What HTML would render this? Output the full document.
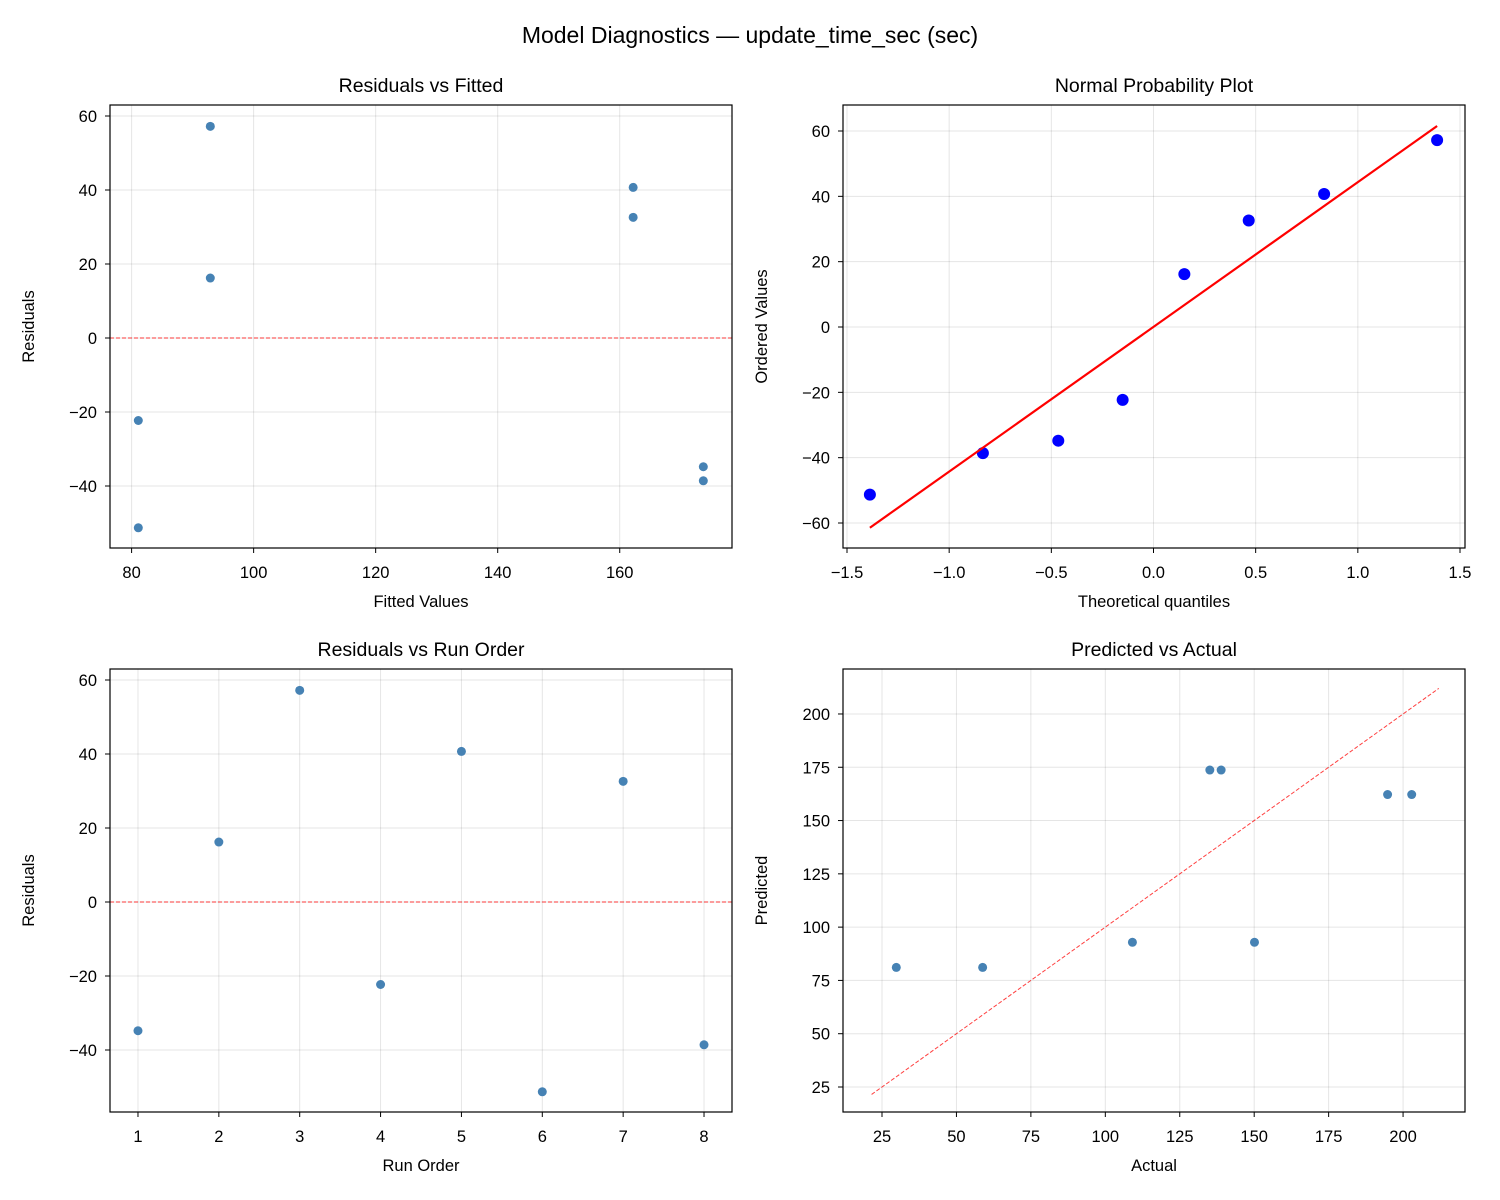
<!DOCTYPE html>
<html><head><meta charset="utf-8"><style>
html,body{margin:0;padding:0;background:#fff;}
svg{display:block;font-family:"Liberation Sans","DejaVu Sans",sans-serif;}
</style></head><body>
<svg id="fig" width="1500" height="1200" viewBox="0 0 1500 1200" xmlns="http://www.w3.org/2000/svg">
<rect width="1500" height="1200" fill="#fff"/>
<text x="750" y="43" text-anchor="middle" font-size="23" fill="#000">Model Diagnostics — update_time_sec (sec)</text>
</svg>
<script>
const runOrder=[1,2,3,4,5,6,7,8];
const residuals=[-34.8,16.2,57.2,-22.3,40.7,-51.3,32.6,-38.6];
const fitted=[173.7,92.9,92.9,81.1,162.2,81.1,162.2,173.7];
const actual=[138.9,109.1,150.1,58.8,202.9,29.8,194.8,135.1];
const quantiles=[-1.388,-0.835,-0.466,-0.151,0.151,0.466,0.835,1.388];
const orderedVals=[-51.3,-38.6,-34.8,-22.3,16.2,32.6,40.7,57.2];
const qqSlope=44.3, qqIntercept=0.04;
const ticksResid=[-40,-20,0,20,40,60];
const ticksFitted=[80,100,120,140,160];
const ticksQ=[-1.5,-1.0,-0.5,0.0,0.5,1.0,1.5];
const ticksQQy=[-60,-40,-20,0,20,40,60];
const ticksRun=[1,2,3,4,5,6,7,8];
const ticksActual=[25,50,75,100,125,150,175,200];
const ticksPred=[25,50,75,100,125,150,175,200];
const diagRange=[21.5,212];

const NS="http://www.w3.org/2000/svg";
const svg=document.getElementById('fig');
function el(tag,attrs,parent){const e=document.createElementNS(NS,tag);for(const k in attrs)e.setAttribute(k,attrs[k]);(parent||svg).appendChild(e);return e;}
function fmt(v,dec){return (v<0?'\u2212':'')+Math.abs(v).toFixed(dec);}

function axes(o){
  const g=el('g',{});
  
  
  const sx=v=>o.x0+(v-o.xl[0])/(o.xl[1]-o.xl[0])*(o.x1-o.x0);
  const sy=v=>o.y1-(v-o.yl[0])/(o.yl[1]-o.yl[0])*(o.y1-o.y0);
  o.xt.forEach(t=>{const x=sx(t);
    const gl=el('line',{x1:x,x2:x,y1:o.y0,y2:o.y1,stroke:'#000','stroke-opacity':0.1,'stroke-width':1},g);
    
    el('line',{x1:x,x2:x,y1:o.y1,y2:o.y1+5,stroke:'#000','stroke-width':1},g);
    const tx=el('text',{x:x,y:o.y1+30,'text-anchor':'middle','font-size':16.5},g);tx.textContent=fmt(t,o.xd);
    });
  o.yt.forEach(t=>{const y=sy(t);
    const gl=el('line',{x1:o.x0,x2:o.x1,y1:y,y2:y,stroke:'#000','stroke-opacity':0.1,'stroke-width':1},g);
    
    el('line',{x1:o.x0-5,x2:o.x0,y1:y,y2:y,stroke:'#000','stroke-width':1},g);
    const tx=el('text',{x:o.x0-13,y:y+6,'text-anchor':'end','font-size':16.5},g);tx.textContent=fmt(t,o.yd);
    });
  const t=el('text',{x:(o.x0+o.x1)/2,y:o.y0-13,'text-anchor':'middle','font-size':19.5},g);t.textContent=o.title;
  
  const xl=el('text',{x:(o.x0+o.x1)/2,y:o.y1+59,'text-anchor':'middle','font-size':16.5},g);xl.textContent=o.xlabel;
  
  const yx=o.x0-o.ylOff;
  const yl=el('text',{x:yx,y:(o.y0+o.y1)/2,'text-anchor':'middle','font-size':16.5,transform:`rotate(-90 ${yx} ${(o.y0+o.y1)/2})`},g);yl.textContent=o.ylabel;
  
  o.g=g;o.sx=sx;o.sy=sy;return o;
}
function frame(o){const r=el('rect',{x:o.x0,y:o.y0,width:o.x1-o.x0,height:o.y1-o.y0,fill:'none',stroke:'#000','stroke-width':1.2},o.g);
  }
function pts(o,xs,ys,r,fill,name){xs.forEach((x,i)=>{const c=el('circle',{cx:o.sx(x),cy:o.sy(ys[i]),r:r,fill:fill},o.g);
  });}
function zero(o){const l=el('line',{x1:o.x0,x2:o.x1,y1:o.sy(0),y2:o.sy(0),stroke:'#ff0000','stroke-opacity':0.75,'stroke-width':1,'stroke-dasharray':'4,2'},o.g);
  }

const a1=axes({name:'residuals-vs-fitted',x0:110,x1:732,y0:105,y1:548,xl:[76.46,178.4],yl:[-56.76,62.97],xt:ticksFitted,yt:ticksResid,xd:0,yd:0,title:'Residuals vs Fitted',xlabel:'Fitted Values',ylabel:'Residuals',ylOff:76});
zero(a1);pts(a1,fitted,residuals,4.5,'#4682b4','residual-point');frame(a1);

const a2=axes({name:'normal-probability-plot',x0:843,x1:1465,y0:105,y1:548,xl:[-1.5196,1.5245],yl:[-67.65,67.96],xt:ticksQ,yt:ticksQQy,xd:1,yd:0,title:'Normal Probability Plot',xlabel:'Theoretical quantiles',ylabel:'Ordered Values',ylOff:76});
pts(a2,quantiles,orderedVals,6,'#0000ff','qq-point');
const qa=quantiles[0],qb=quantiles[quantiles.length-1];
const fl=el('line',{x1:a2.sx(qa),y1:a2.sy(qqSlope*qa+qqIntercept),x2:a2.sx(qb),y2:a2.sy(qqSlope*qb+qqIntercept),stroke:'#ff0000','stroke-width':2.2},a2.g);

frame(a2);

const a3=axes({name:'residuals-vs-run-order',x0:110,x1:732,y0:669,y1:1112,xl:[0.654,8.346],yl:[-56.76,62.97],xt:ticksRun,yt:ticksResid,xd:0,yd:0,title:'Residuals vs Run Order',xlabel:'Run Order',ylabel:'Residuals',ylOff:76});
zero(a3);pts(a3,runOrder,residuals,4.5,'#4682b4','run-order-point');frame(a3);

const a4=axes({name:'predicted-vs-actual',x0:843,x1:1465,y0:669,y1:1112,xl:[11.9,220.8],yl:[13.27,221.1],xt:ticksActual,yt:ticksPred,xd:0,yd:0,title:'Predicted vs Actual',xlabel:'Actual',ylabel:'Predicted',ylOff:76});
const dl=el('line',{x1:a4.sx(diagRange[0]),y1:a4.sy(diagRange[0]),x2:a4.sx(diagRange[1]),y2:a4.sy(diagRange[1]),stroke:'#ff0000','stroke-opacity':0.75,'stroke-width':1,'stroke-dasharray':'4,2'},a4.g);

pts(a4,actual,fitted,4.5,'#4682b4','predicted-point');frame(a4);
</script>
</body></html>
